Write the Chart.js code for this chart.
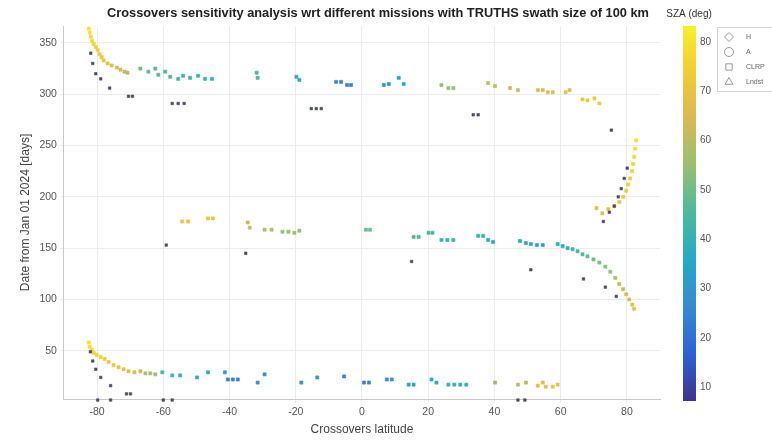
<!DOCTYPE html>
<html>
<head>
<meta charset="utf-8">
<script src="https://cdn.jsdelivr.net/npm/chart.js@4.4.1/dist/chart.umd.min.js"></script>
<style>
  html, body { margin: 0; padding: 0; background: #fff; }
  #wrap { width: 772px; height: 440px; }
</style>
</head>
<body>
<div id="wrap"><canvas id="xover"></canvas></div>
<script>
const chartTitle = 'Crossovers sensitivity analysis wrt different missions with TRUTHS swath size of 100 km';
const xTicks = [-80, -60, -40, -20, 0, 20, 40, 60, 80];
const yTicks = [50, 100, 150, 200, 250, 300, 350];
const cbTicks = [10, 20, 30, 40, 50, 60, 70, 80];
const missionNames = ['H', 'A', 'CLRP', 'Lndst'];

// mission H (dark markers, no SZA colouring)
const hLat = [-81.9, -81.3, -80.4, -78.9, -76.2, -70.5, -69.3, -57.3, -55.5, -53.7, -15.3, -13.8, -12.3, 33.6, 35.1, 75.3,
  80.1, 79.2, 78.3, 77.4, 76.2, 74.7, 72.9,
  -59.1, -35.1, 15.0, 51.0, 66.9, 73.5, 76.8,
  -82.0, -81.3, -80.4, -78.9, -75.9, -71.1, -69.9, -79.8, -75.9, -60.0, -57.3, 47.1, 49.2];
const hDay = [340, 330, 320, 315, 306, 298, 298, 291, 291, 291, 286, 286, 286, 280, 280, 265,
  228, 218, 208, 200, 191, 185, 176,
  153, 145, 137, 129, 120, 112, 103,
  49, 40, 32, 24, 16, 8, 8, 2, 2, 2, 2, 2, 2];

// mission A (northern-summer band, top and right arc)
const aLat = [-82.5, -82.2, -81.8, -81.5, -81.0, -80.4, -79.8, -79.2, -78.6, -78.0, -76.8, -75.6, -74.0, -72.9, -71.7, -70.8,
  -66.9, -64.5, -62.4, -61.5, -59.4, -57.9, -55.5, -54.0, -51.9, -49.5, -47.4, -45.3,
  -31.8, -31.5, -19.8, -18.9, -7.8, -6.3, -4.5, -3.3, 6.6, 8.1, 11.1, 12.6,
  24.0, 26.1, 27.6, 38.1, 40.2, 44.7, 47.1, 53.1, 54.6, 56.1, 57.6, 61.5, 62.7, 66.6, 68.1, 70.2, 71.7,
  82.8, 82.5, 82.2, 81.9, 81.6, 81.0, 80.4, 79.8, 78.9, 77.7, 76.2, 74.4, 72.6, 70.8];
const aDay = [364, 360, 356, 352, 349, 346, 343, 339, 336, 333, 330, 328, 326, 324, 322, 321,
  325, 322, 325, 319, 322, 317, 315, 318, 316, 318, 315, 315,
  321, 316, 317, 314, 312, 312, 309, 309, 309, 310, 316, 310,
  309, 306, 306, 311, 308, 306, 304, 304, 304, 302, 302, 302, 304, 295, 294, 296, 291,
  255, 247, 239, 232, 225, 218, 212, 206, 200, 195, 191, 188, 184, 189];
const aSza = [80, 79, 78, 77, 76, 75, 74, 73, 72, 71, 70, 68, 66, 64, 62, 60,
  50, 48, 47, 46, 45, 44, 43, 42, 42, 41, 40, 40,
  45, 45, 38, 38, 25, 25, 24, 24, 30, 30, 35, 35,
  55, 56, 56, 60, 60, 62, 62, 66, 66, 67, 67, 68, 68, 72, 72, 73, 73,
  80, 79, 78, 77, 76, 75, 74, 73, 72, 71, 70, 69, 68, 67];

// mission CLRP (middle band)
const cLat = [-54.3, -52.5, -46.5, -45.0, -34.5, -33.9, -29.4, -27.3, -24.0, -22.2, -20.4, -18.9, 1.2, 2.4,
  15.6, 17.1, 20.1, 21.3, 24.0, 25.8, 27.6, 35.1, 36.6, 38.1, 39.6,
  47.7, 49.5, 51.0, 52.8, 54.6, 59.1, 60.6,
  62.1, 63.6, 65.1, 66.6, 68.1, 69.9, 71.7, 73.5, 75.0, 76.5, 77.7, 78.9, 79.8, 80.7, 81.6, 82.2];
const cDay = [176, 176, 179, 179, 175, 170, 168, 168, 166, 166, 165, 167, 168, 168,
  161, 161, 165, 165, 158, 158, 158, 162, 162, 158, 156,
  157, 155, 154, 153, 153, 154, 152,
  150, 149, 147, 144, 142, 139, 136, 132, 127, 121, 115, 110, 105, 100, 95, 91];
const cSza = [70, 70, 70, 70, 62, 62, 58, 58, 55, 55, 55, 55, 50, 50,
  45, 45, 45, 45, 42, 42, 42, 40, 40, 38, 38,
  35, 35, 35, 35, 35, 38, 38,
  40, 42, 44, 46, 48, 50, 52, 54, 56, 58, 60, 62, 64, 66, 68, 70];

// mission Lndst (bottom band)
const lLat = [-82.5, -82.2, -81.6, -81.0, -80.1, -78.9, -77.7, -76.5, -75.0, -73.5, -72.0, -70.5, -68.7, -66.9,
  -65.4, -63.9, -62.4, -60.3, -57.3, -54.9, -49.8, -46.5, -41.4, -40.5, -39.0, -37.5, -31.5, -29.4,
  -18.3, -13.5, -5.4, 0.6, 2.1, 7.5, 9.0, 14.1, 15.6, 21.0, 22.5, 26.1, 27.9, 29.7, 31.5,
  40.2, 47.1, 49.5, 53.1, 54.6, 55.5, 57.6, 59.1];
const lDay = [58, 54, 51, 48, 46, 44, 42, 39, 36, 34, 32, 30, 29, 30,
  28, 28, 27, 29, 26, 26, 24, 29, 29, 22, 22, 22, 19, 27,
  19, 24, 25, 19, 19, 22, 22, 17, 17, 22, 19, 17, 17, 17, 17,
  19, 17, 19, 16, 19, 15, 15, 17];
const lSza = [80, 79, 78, 77, 76, 75, 74, 73, 72, 70, 69, 68, 66, 64,
  58, 57, 56, 45, 42, 40, 38, 36, 33, 25, 25, 25, 30, 30,
  30, 28, 25, 25, 25, 28, 28, 35, 35, 38, 38, 40, 40, 40, 40,
  55, 60, 60, 68, 68, 68, 70, 70];

const parula = ['#3b3590', '#2c62d6', '#3a89d2', '#25a9c4', '#4cb99c', '#98bf72', '#d6b955', '#f2cb35', '#f5f02a'];
const cbMin = 7.6, cbMax = 83.2;

function hex2rgb(h) {
  return [parseInt(h.slice(1, 3), 16), parseInt(h.slice(3, 5), 16), parseInt(h.slice(5, 7), 16)];
}
function szaColor(v) {
  let t = (v - cbMin) / (cbMax - cbMin);
  t = Math.max(0, Math.min(1, t)) * (parula.length - 1);
  const i = Math.min(Math.floor(t), parula.length - 2);
  const f = t - i;
  const a = hex2rgb(parula[i]), b = hex2rgb(parula[i + 1]);
  const c = a.map((x, k) => Math.round(x + (b[k] - x) * f));
  return 'rgb(' + c.join(',') + ')';
}

function pts(lat, day, sza) {
  return lat.map((x, i) => ({x: x, y: day[i], s: sza ? sza[i] : null}));
}
const fillBySza = c => (c.raw && c.raw.s != null) ? szaColor(c.raw.s) : '#4a4f63';

const FONT = '"Liberation Sans", Arial, sans-serif';

const extras = {
  id: 'extras',
  afterDraw(chart) {
    const ctx = chart.ctx, a = chart.chartArea, cb = chart.scales.cb;
    ctx.save();
    ctx.font = 'bold 12.8px ' + FONT;
    ctx.fillStyle = '#222';
    ctx.textAlign = 'center';
    ctx.textBaseline = 'middle';
    ctx.fillText(chartTitle, (a.left + a.right) / 2 + 16, 13);

    // colour bar
    const bx = cb.left + 23, bw = 13;
    const g = ctx.createLinearGradient(0, cb.bottom, 0, cb.top);
    parula.forEach((c, i) => g.addColorStop(i / (parula.length - 1), c));
    ctx.fillStyle = g;
    ctx.fillRect(bx, cb.top, bw, cb.bottom - cb.top + 2);
    ctx.font = '10px ' + FONT;
    ctx.fillStyle = '#333';
    ctx.fillText('SZA (deg)', bx + 6, 14);

    // legend
    const lx = 717, ly = 27;
    ctx.strokeStyle = '#d4d4d4';
    ctx.lineWidth = 1;
    ctx.strokeRect(lx + 0.5, ly + 0.5, 70, 64);
    ctx.textAlign = 'left';
    ctx.font = '7px ' + FONT;
    chart.data.datasets.forEach((ds, i) => {
      const y = ly + 10 + i * 15;
      ctx.fillStyle = '#fff';
      ctx.strokeStyle = '#9a9a9a';
      ctx.lineWidth = 1;
      Chart.helpers.drawPoint(ctx, {pointStyle: ds.legendStyle, radius: 4.5, borderWidth: 1}, lx + 12, y);
      ctx.fillStyle = '#666';
      ctx.fillText(ds.label, lx + 29, y);
    });
    ctx.restore();
  }
};

const datasets = [
  {label: missionNames[0], data: pts(hLat, hDay, null), legendStyle: 'rectRot', pointStyle: 'rect', pointRadius: 1.8},
  {label: missionNames[1], data: pts(aLat, aDay, aSza), legendStyle: 'circle', pointStyle: 'rect', pointRadius: 2.2},
  {label: missionNames[2], data: pts(cLat, cDay, cSza), legendStyle: 'rect', pointStyle: 'rect', pointRadius: 2.2},
  {label: missionNames[3], data: pts(lLat, lDay, lSza), legendStyle: 'triangle', pointStyle: 'rect', pointRadius: 2.2}
].map(d => Object.assign(d, {
  backgroundColor: fillBySza,
  borderColor: fillBySza,
  borderWidth: 0.6,
  pointHoverRadius: 3,
  clip: false
}));

new Chart(document.getElementById('xover'), {
  type: 'scatter',
  data: {datasets: datasets},
  options: {
    responsive: true,
    maintainAspectRatio: false,
    animation: false,
    layout: {padding: {top: 26, right: 55, bottom: 1, left: 14}},
    plugins: {
      legend: {display: false},
      tooltip: {enabled: false}
    },
    scales: {
      x: {
        min: -90, max: 90,
        afterBuildTicks: s => { s.ticks = xTicks.map(v => ({value: v})); },
        grid: {color: '#ececec', tickLength: 4},
        border: {color: '#c8c8c8'},
        ticks: {color: '#555', font: {size: 10.5, family: FONT}, maxRotation: 0},
        title: {display: true, text: 'Crossovers latitude', color: '#444', font: {size: 12, family: FONT}, padding: {top: 1, bottom: 2}}
      },
      y: {
        min: 3, max: 366.5,
        afterBuildTicks: s => { s.ticks = yTicks.map(v => ({value: v})); },
        grid: {color: '#ececec', tickLength: 4},
        border: {color: '#c8c8c8'},
        ticks: {color: '#555', font: {size: 10.5, family: FONT}},
        title: {display: true, text: 'Date from Jan 01 2024 [days]', color: '#444', font: {size: 12, family: FONT}}
      },
      cb: {
        type: 'linear',
        position: 'right',
        min: cbMin, max: cbMax,
        afterBuildTicks: s => { s.ticks = cbTicks.map(v => ({value: v})); },
        afterFit: s => { s.width = 57; s.paddingTop = 0; s.paddingBottom = 0; },
        grid: {display: true, drawOnChartArea: false, tickLength: 38, color: 'rgba(0,0,0,0)'},
        border: {display: false},
        ticks: {color: '#555', font: {size: 10, family: FONT}, padding: 2}
      }
    }
  },
  plugins: [extras]
});
</script>
</body>
</html>
